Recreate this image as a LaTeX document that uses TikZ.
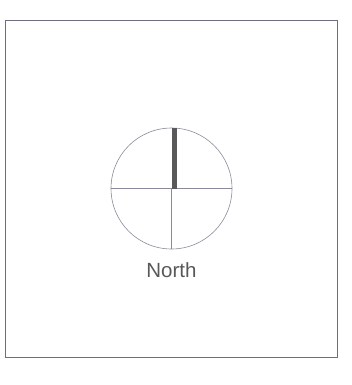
\documentclass[tikz,border=0pt]{standalone}
\usepackage{fontspec}
\setmainfont{Liberation Sans}
\usetikzlibrary{positioning}
\definecolor{framegray}{HTML}{6E6E80}
\definecolor{linegray}{HTML}{8A8A9C}
\definecolor{bargray}{HTML}{595959}

\begin{document}
\begin{tikzpicture}[x=1pt,y=-1pt]
  \useasboundingbox (0,0) rectangle (351,385);
  \draw[framegray,line width=0.9pt] (5,20) rectangle (337,357);
  \node[circle,minimum size=121pt,inner sep=0pt,draw=linegray,
    line width=0.6pt] (D) at (171.5,188.5) {};
  \draw[linegray,line width=0.5pt] (D.west) -- (D.east);
  \draw[linegray,line width=0.5pt] (D.center) -- (D.south);
  \draw[bargray,line width=5pt] ([xshift=2.5pt]D.center) -- ([xshift=2.5pt]D.north);
  \node[below=13pt of D,inner sep=0pt,text=bargray,
    font=\fontsize{20.5}{24}\selectfont] (N) {North};
\end{tikzpicture}
\end{document}
